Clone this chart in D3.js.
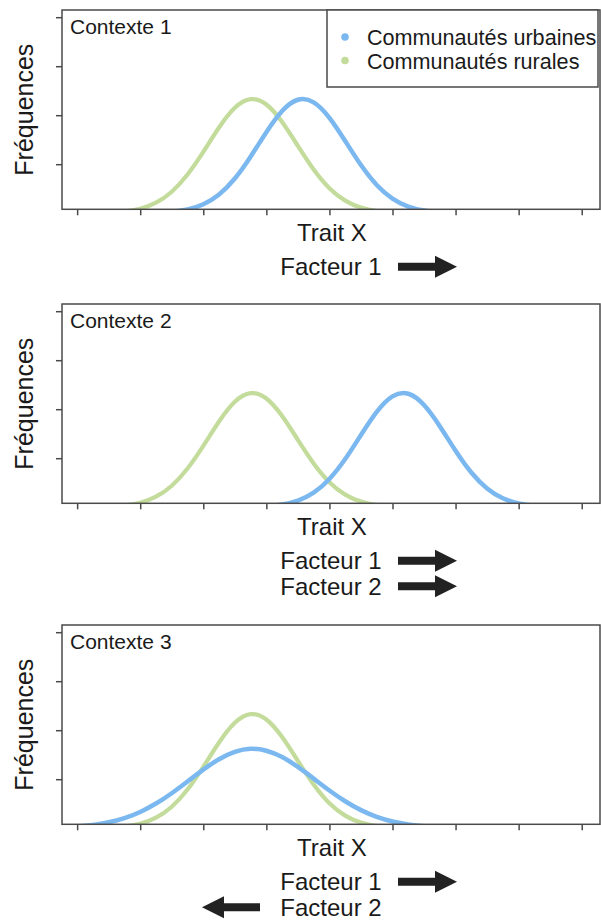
<!DOCTYPE html>
<html>
<head>
<meta charset="utf-8">
<script src="https://d3js.org/d3.v7.min.js"></script>
<style>
  html, body { margin: 0; padding: 0; background: #fff; }
  svg { display: block; }
  text { font-family: "Liberation Sans", Arial, sans-serif; fill: #1a1a1a; }
</style>
</head>
<body>
<svg id="chart" width="601" height="920"></svg>
<script>
// ---- data ----
const contexts = ["Contexte 1", "Contexte 2", "Contexte 3"];
const seriesNames = ["Communautés urbaines", "Communautés rurales"];
const traitX = [-4.25, -4, -3.75, -3.5, -3.25, -3, -2.75, -2.5, -2.25, -2, -1.75, -1.5, -1.25, -1, -0.75, -0.5, -0.25,
                0, 0.25, 0.5, 0.75, 1, 1.25, 1.5, 1.75, 2, 2.25, 2.5, 2.75, 3, 3.25, 3.5, 3.75, 4];
const rural = [0, 0, 0.003, 0.012, 0.035, 0.092, 0.214, 0.438, 0.789, 1.252, 1.749, 2.151, 2.328, 2.218, 1.860, 1.373, 0.892,
               0.510, 0.257, 0.114, 0.044, 0.015, 0.005, 0.001, 0, 0, 0, 0, 0, 0, 0, 0, 0, 0];
const urban1 = [0, 0, 0, 0, 0.001, 0.003, 0.009, 0.028, 0.076, 0.182, 0.383, 0.709, 1.154, 1.653, 2.085, 2.315, 2.262,
                1.946, 1.474, 0.982, 0.576, 0.298, 0.135, 0.054, 0.019, 0.006, 0.002, 0, 0, 0, 0, 0, 0, 0];
const urban2 = [0, 0, 0, 0, 0, 0, 0, 0, 0, 0, 0, 0.002, 0.006, 0.019, 0.054, 0.135, 0.298,
                0.576, 0.982, 1.474, 1.946, 2.262, 2.315, 2.085, 1.653, 1.154, 0.709, 0.383, 0.182, 0.076, 0.028, 0.009, 0.003, 0.001];
const urban3 = [0.016, 0.034, 0.066, 0.120, 0.206, 0.332, 0.503, 0.714, 0.953, 1.195, 1.408, 1.558, 1.619, 1.581, 1.451, 1.250, 1.012,
                0.770, 0.550, 0.369, 0.233, 0.138, 0.077, 0.040, 0.020, 0.009, 0.004, 0.001, 0, 0, 0, 0, 0, 0];
const urbanByContext = [urban1, urban2, urban3];
const ruralByContext = [rural, rural, rural];
const xTickValues = [-4, -3, -2, -1, 0, 1, 2, 3, 4];
const yTickValues = [1, 2, 3, 4];
const factorLabels = [["Facteur 1"], ["Facteur 1", "Facteur 2"], ["Facteur 1", "Facteur 2"]];
const factorDirections = [[1], [1, 1], [1, -1]];

// ---- layout ----
const blue = "#7cb8f0", green = "#c3dc9b";
const axisColor = "#4a4a4a";
const left = 62, right = 600;
const panelTops = [10, 304, 625];
const panelH = 199.3;

const svg = d3.select("#chart");
svg.append("rect").attr("width", 601).attr("height", 920).attr("fill", "#fff");

const x = d3.scaleLinear().domain([-4.24, 4.29]).range([left, right]);

function arrowPath(tail, tip, yc) {
  const dir = Math.sign(tip - tail);
  const headLen = 22, headHalf = 11, shaftHalf = 4;
  const hb = tip - dir * headLen;
  return `M${tail},${yc - shaftHalf}L${hb},${yc - shaftHalf}L${hb},${yc - headHalf}L${tip},${yc}` +
         `L${hb},${yc + headHalf}L${hb},${yc + shaftHalf}L${tail},${yc + shaftHalf}Z`;
}

contexts.forEach((ctx, i) => {
  const top = panelTops[i], bottom = top + panelH;
  const y = d3.scaleLinear().domain([0, 4]).range([top + 203.2, top + 203.2 - 196]);
  const g = svg.append("g");

  const clipId = "clip" + i;
  g.append("clipPath").attr("id", clipId).append("rect")
    .attr("x", left).attr("y", top).attr("width", right - left).attr("height", panelH);

  const line = d3.line()
    .x((d, k) => x(traitX[k]))
    .y(d => y(d))
    .curve(d3.curveNatural);

  const curves = g.append("g").attr("clip-path", `url(#${clipId})`);
  curves.append("path").datum(ruralByContext[i])
    .attr("d", line).attr("fill", "none").attr("stroke", green).attr("stroke-width", 4.2);
  curves.append("path").datum(urbanByContext[i])
    .attr("d", line).attr("fill", "none").attr("stroke", blue).attr("stroke-width", 4.5);

  // frame
  g.append("rect").attr("x", left).attr("y", top).attr("width", right - left).attr("height", panelH)
    .attr("fill", "none").attr("stroke", axisColor).attr("stroke-width", 1.5);

  // axes (ticks only, no labels)
  const xAxis = d3.axisBottom(x).tickValues(xTickValues).tickSize(6).tickFormat("");
  const gx = g.append("g").attr("transform", `translate(0,${bottom})`).call(xAxis);
  gx.select(".domain").remove();
  gx.selectAll("line").attr("stroke", axisColor).attr("stroke-width", 1.5);

  const yAxis = d3.axisLeft(y).tickValues(yTickValues).tickSize(6).tickFormat("");
  const gy = g.append("g").attr("transform", `translate(${left},0)`).call(yAxis);
  gy.select(".domain").remove();
  gy.selectAll("line").attr("stroke", axisColor).attr("stroke-width", 1.5);

  // labels
  g.append("text").attr("x", 70).attr("y", top + 23.5).attr("font-size", 21).text(ctx);
  g.append("text").attr("transform", `translate(33,${top + panelH / 2}) rotate(-90)`)
    .attr("text-anchor", "middle").attr("font-size", 25).text("Fréquences");
  g.append("text").attr("x", 332).attr("y", bottom + 32).attr("text-anchor", "middle")
    .attr("font-size", 24).text("Trait X");

  factorLabels[i].forEach((lab, j) => {
    const by = bottom + 66 + j * 25.5;
    g.append("text").attr("x", 331).attr("y", by).attr("text-anchor", "middle")
      .attr("font-size", 24).text(lab);
    const dir = factorDirections[i][j];
    const d = dir > 0 ? arrowPath(398, 457, by - 8.5) : arrowPath(260, 202, by - 8.5);
    g.append("path").attr("d", d).attr("fill", "#222");
  });
});

// legend (panel 1)
const lg = svg.append("g");
lg.append("rect").attr("x", 327).attr("y", 10).attr("width", 271).attr("height", 77)
  .attr("fill", "#fff").attr("stroke", axisColor).attr("stroke-width", 1.5);
[blue, green].forEach((c, k) => {
  lg.append("circle").attr("cx", 345).attr("cy", 37 + k * 23.5).attr("r", 3.8).attr("fill", c);
  lg.append("text").attr("x", 367).attr("y", 45 + k * 23.5).attr("font-size", 21.6).text(seriesNames[k]);
});
</script>
</body>
</html>
